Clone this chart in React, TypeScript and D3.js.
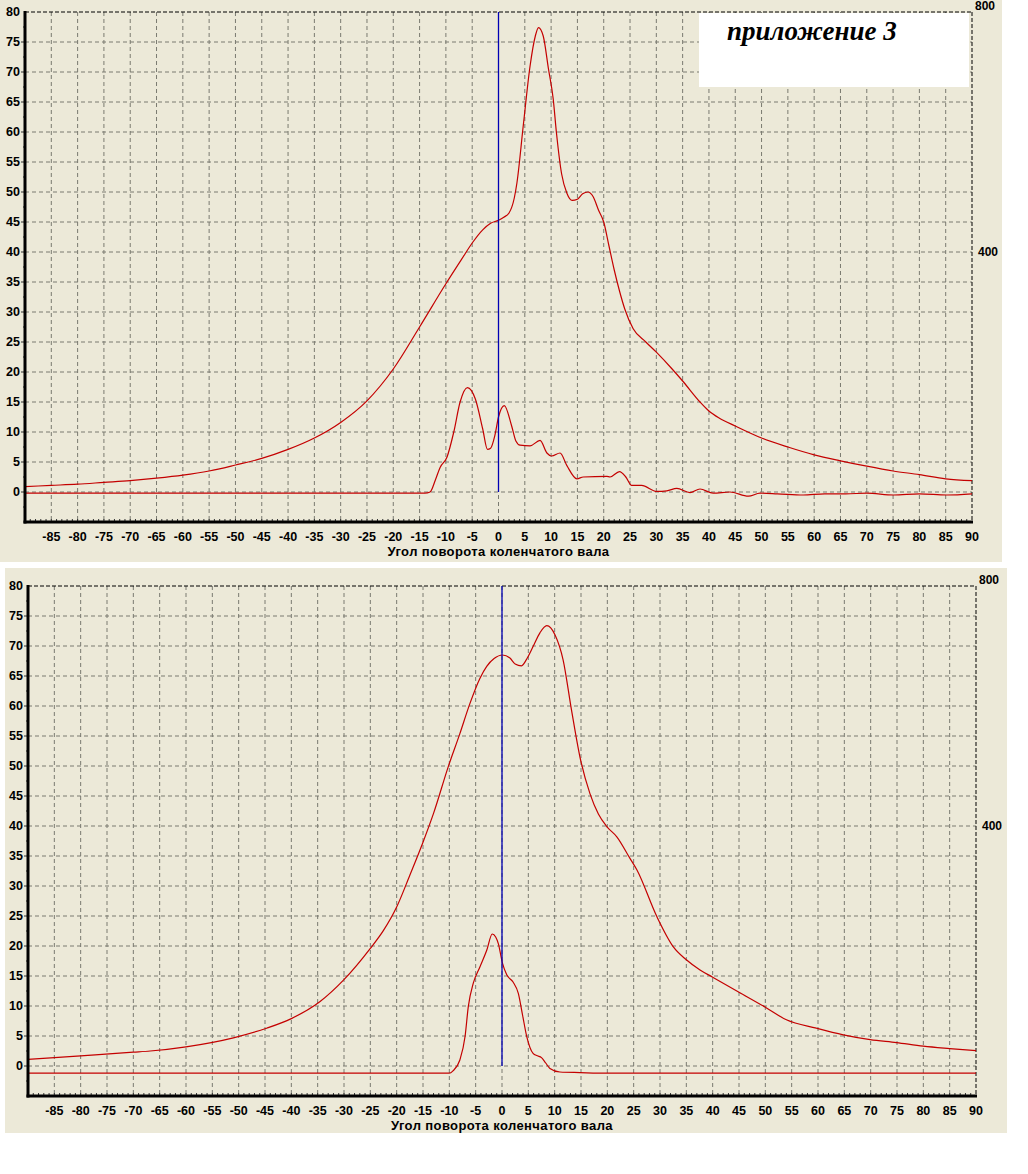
import React from "react";
import * as d3 from "d3";

// crank angle (deg) / value pairs
const topUpperDeg = [-90, -85, -80, -75, -70, -65, -60, -55, -50, -45, -40, -35, -30, -25, -20, -15, -10, -7, -5, -3, -1.5, 0, 1, 2, 3, 3.5, 4.7, 6, 7, 7.6, 8.5, 9.5, 10.4, 11, 12, 13, 14, 15, 16, 17, 18, 19, 20, 21, 22, 23, 24, 25.6, 28, 30, 33, 35, 38.3, 40, 42, 45, 50, 55, 60, 65, 70, 75, 80, 85, 90];
const topUpperVal = [0.9, 1.1, 1.3, 1.6, 1.9, 2.3, 2.8, 3.5, 4.5, 5.6, 7.1, 9.0, 11.6, 15.2, 20.5, 27.5, 34.7, 38.8, 41.5, 43.7, 44.8, 45.3, 45.8, 46.5, 49, 51.5, 61, 71, 76, 77.4, 76, 70.5, 65.5, 60, 53, 49.8, 48.6, 48.8, 49.7, 50, 49.2, 47, 45, 41, 37, 33.5, 30.5, 27.2, 25, 23.3, 20.5, 18.5, 15, 13.5, 12.3, 11, 9, 7.5, 6.2, 5.2, 4.3, 3.5, 2.9, 2.2, 1.9];

const topLowerDeg = [-90, -14, -13, -12, -11.1, -9.8, -8.5, -7.3, -5.9, -4.4, -3, -2.1, -1.5, -0.7, 0, 1.1, 2.5, 3.3, 4.1, 6, 7.9, 9.2, 10.1, 11.7, 13, 14.9, 16.1, 20.6, 21.2, 23, 24.2, 25.3, 27.2, 30.1, 32, 33.9, 36.4, 38.3, 40.8, 44, 47.5, 49.7, 53, 57.9, 62, 66, 70, 75.1, 80, 85.2, 90];
const topLowerVal = [-0.2, -0.2, 0, 2, 4.1, 5.8, 10, 15, 17.4, 15.5, 10.5, 7.1, 7.3, 9.4, 12.5, 14.4, 11, 8.5, 7.8, 7.7, 8.6, 6.5, 6, 6.5, 4.4, 2.2, 2.5, 2.6, 2.5, 3.4, 2.5, 1.1, 1.1, 0.1, 0.2, 0.6, -0.1, 0.5, -0.2, 0, -0.7, -0.2, -0.3, -0.5, -0.3, -0.3, -0.2, -0.5, -0.3, -0.5, -0.3];

const bottomUpperDeg = [-90, -80, -70, -66.8, -60, -51, -44.7, -40, -34.6, -30.1, -25, -22.5, -20, -17.5, -15, -13, -10.2, -8, -6.1, -4.2, -2.9, -1.5, 0.1, 1.5, 2.5, 3.7, 4.8, 5.9, 7.2, 8.5, 10.1, 11.6, 13.2, 14.8, 16.7, 18.3, 19.9, 21.8, 24.3, 25.6, 29.4, 32.5, 35, 37.6, 40, 45, 50, 54, 59.7, 64.8, 69.9, 74.9, 80, 85, 90];
const bottomUpperVal = [1.1, 1.7, 2.3, 2.5, 3.2, 4.7, 6.3, 7.9, 10.7, 14.3, 19.6, 22.6, 26.5, 31.8, 37.3, 42.1, 49.9, 55.4, 60.4, 64.6, 66.6, 67.9, 68.5, 68, 67, 66.7, 68, 69.9, 72.2, 73.4, 71.8, 67.7, 59.3, 51.5, 45.4, 42, 39.9, 38.2, 34.6, 32.7, 24.9, 19.9, 17.7, 16, 14.8, 12.3, 9.8, 7.7, 6.3, 5.2, 4.4, 3.9, 3.3, 2.9, 2.55];

const bottomLowerDeg = [-90, -10, -9.3, -8, -7, -6.4, -5.45, -4.2, -2.9, -1.85, -1.2, -0.7, 0.1, 0.9, 2.1, 3.1, 3.9, 4.7, 5.9, 6.7, 7.5, 8.3, 9.1, 11, 14.8, 20, 90];
const bottomLowerVal = [-1.2, -1.2, -0.8, 1, 5, 9.9, 13.8, 16.5, 19.3, 22, 21.5, 20.4, 17.1, 15.2, 14, 12.1, 8.5, 4.9, 2.1, 1.7, 1.4, 0.5, -0.4, -1.0, -1.1, -1.2, -1.2];

const xTickLabels = [-85, -80, -75, -70, -65, -60, -55, -50, -45, -40, -35, -30, -25, -20, -15, -10, -5, 0, 5, 10, 15, 20, 25, 30, 35, 40, 45, 50, 55, 60, 65, 70, 75, 80, 85, 90];
const yTickLabels = [0, 5, 10, 15, 20, 25, 30, 35, 40, 45, 50, 55, 60, 65, 70, 75, 80];
const rightTickLabels = ["800", "400"];
const rightTickAt = [80, 40];
const axisTitle = "Угол поворота коленчатого вала";
const noteText = "приложение 3";

type Pt = [number, number];
const zip = (a: number[], b: number[]): Pt[] => a.map((v, i) => [v, b[i]]);

const BG = "#ECE9D8";
const FONT = "'Liberation Sans', Arial, sans-serif";

type PanelProps = {
  box: { x: number; y: number; w: number; h: number };
  left: number;
  right: number;
  top: number;
  bottom: number;
  upper: Pt[];
  lower: Pt[];
  note?: boolean;
};

const Panel: React.FC<PanelProps> = ({ box, left, right, top, bottom, upper, lower, note }) => {
  const x = d3.scaleLinear().domain([-90, 90]).range([left, right]);
  const y = d3.scaleLinear().domain([-5, 80]).range([bottom, top]);
  const line = d3
    .line<Pt>()
    .x((d) => x(d[0]))
    .y((d) => y(d[1]))
    .curve(d3.curveMonotoneX);

  const gridX = d3.range(-85, 90, 5);
  const gridY = d3.range(0, 80, 5);
  const minorX = d3.range(-89, 90, 1);
  const minorY = d3.range(-2.5, 80, 2.5);

  return (
    <g>
      <rect x={box.x} y={box.y} width={box.w} height={box.h} fill={BG} />

      {/* grid */}
      {gridX.map((v) => (
        <line key={"gx" + v} x1={x(v)} x2={x(v)} y1={top} y2={bottom} stroke="#7a7a70" strokeDasharray="4,3" strokeWidth={1} />
      ))}
      {gridY.map((v) => (
        <line key={"gy" + v} x1={left} x2={right} y1={y(v)} y2={y(v)} stroke="#7a7a70" strokeDasharray="4,3" strokeWidth={1} />
      ))}
      <line x1={left} x2={right} y1={top} y2={top} stroke="#000" strokeDasharray="4,2" strokeWidth={1} />
      <line x1={right} x2={right} y1={top} y2={bottom} stroke="#000" strokeDasharray="4,2" strokeWidth={1} />

      {/* curves */}
      <path d={line(upper) ?? ""} fill="none" stroke="#c40000" strokeWidth={1.2} />
      <path d={line(lower) ?? ""} fill="none" stroke="#c40000" strokeWidth={1.2} />
      <line x1={x(0)} x2={x(0)} y1={top} y2={y(0)} stroke="#0000b4" strokeWidth={1.3} />

      {note && <rect x={699} y={13} width={270} height={74} fill="#ffffff" />}
      {note && (
        <text
          x={727}
          y={40}
          fontFamily="'Liberation Serif', 'Times New Roman', serif"
          fontStyle="italic"
          fontWeight="bold"
          fontSize={27}
          fill="#000"
        >
          {noteText}
        </text>
      )}

      {/* axes */}
      {minorX.map((v) => (
        <line key={"mx" + v} x1={x(v)} x2={x(v)} y1={bottom - 3} y2={bottom} stroke="#333" strokeWidth={1} />
      ))}
      {minorY.map((v) => (
        <line key={"my" + v} x1={left - (v % 5 === 0 ? 4 : 2)} x2={left} y1={y(v)} y2={y(v)} stroke="#333" strokeWidth={1} />
      ))}
      <line x1={left} x2={left} y1={top - 1} y2={bottom + 1.5} stroke="#000" strokeWidth={3} />
      <line x1={left - 1.5} x2={right + 1} y1={bottom} y2={bottom} stroke="#000" strokeWidth={3} />

      {yTickLabels.map((v) => (
        <text key={"yl" + v} x={left - 5} y={y(v)} dy="0.35em" textAnchor="end" fontFamily={FONT} fontWeight="bold" fontSize={12.5} fill="#000">
          {v}
        </text>
      ))}
      {xTickLabels.map((v) => (
        <text key={"xl" + v} x={x(v)} y={bottom + 15} dy="0.35em" textAnchor="middle" fontFamily={FONT} fontWeight="bold" fontSize={12.5} fill="#000">
          {v}
        </text>
      ))}
      {rightTickLabels.map((t, i) => (
        <text
          key={"rl" + t}
          x={right + (i === 0 ? 3 : 6)}
          y={i === 0 ? top - 6 : y(rightTickAt[i])}
          dy="0.35em"
          fontFamily={FONT}
          fontWeight="bold"
          fontSize={12}
          fill="#000"
        >
          {t}
        </text>
      ))}
      <text
        x={(left + right) / 2}
        y={bottom + 29}
        dy="0.35em"
        textAnchor="middle"
        fontFamily={FONT}
        fontWeight="bold"
        fontSize={13}
        letterSpacing={0.4}
        fill="#000"
      >
        {axisTitle}
      </text>
    </g>
  );
};

export default function App() {
  return (
    <svg width={1028} height={1174} style={{ position: "absolute", left: 0, top: 0, background: "#fff" }}>
      <Panel
        box={{ x: 0, y: 0, w: 1002, h: 562 }}
        left={25}
        right={972}
        top={12}
        bottom={522}
        upper={zip(topUpperDeg, topUpperVal)}
        lower={zip(topLowerDeg, topLowerVal)}
        note
      />
      <Panel
        box={{ x: 5, y: 568, w: 1002, h: 565 }}
        left={28}
        right={976}
        top={586}
        bottom={1096}
        upper={zip(bottomUpperDeg, bottomUpperVal)}
        lower={zip(bottomLowerDeg, bottomLowerVal)}
      />
    </svg>
  );
}
